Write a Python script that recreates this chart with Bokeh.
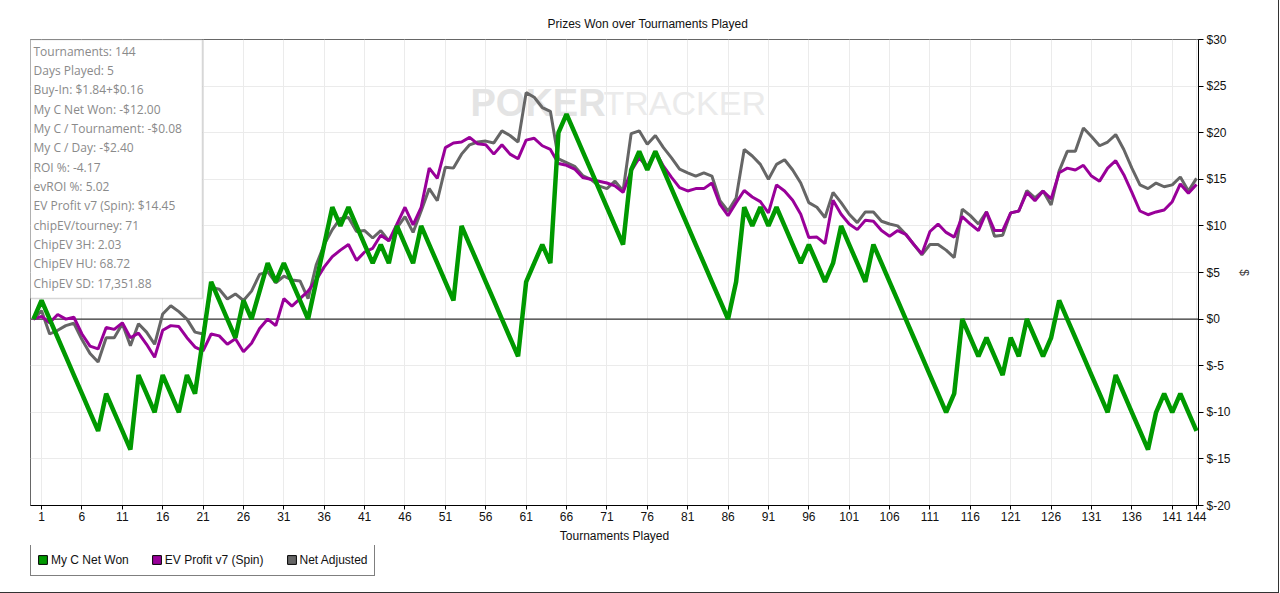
from bokeh.plotting import figure
from bokeh.layouts import column
from bokeh.models import (Range1d, FixedTicker, PrintfTickFormatter, Span, Legend,
                          LegendItem, BoxAnnotation, Label)
from bokeh.embed import file_html
from bokeh.resources import INLINE

# ---------------- data ----------------
tournaments = list(range(145))

net_won = [
    0, 2, 0, -2, -4, -6, -8, -10, -12, -8,
    -10, -12, -14, -6, -8, -10, -6, -8, -10, -6,
    -8, -2, 4, 2, 0, -2, 2, 0, 3, 6,
    4, 6, 4, 2, 0, 4, 8, 12, 10, 12,
    10, 8, 6, 8, 6, 10, 8, 6, 10, 8,
    6, 4, 2, 10, 8, 6, 4, 2, 0, -2,
    -4, 4, 6, 8, 6, 20, 22, 20, 18, 16,
    14, 12, 10, 8, 16, 18, 16, 18, 16, 14,
    12, 10, 8, 6, 4, 2, 0, 4, 12, 10,
    12, 10, 12, 10, 8, 6, 8, 6, 4, 6,
    10, 8, 6, 4, 8, 6, 4, 2, 0, -2,
    -4, -6, -8, -10, -8, 0, -2, -4, -2, -4,
    -6, -2, -4, 0, -2, -4, -2, 2, 0, -2,
    -4, -6, -8, -10, -6, -8, -10, -12, -14, -10,
    -8, -10, -8, -10, -12,
]

ev_profit = [
    0, 0.3, -0.4, 0.5, 0.0, 0.2, -1.6, -2.9, -3.2, -0.9,
    -1.1, -0.4, -2.0, -1.5, -2.7, -4.1, -1.2, -0.7, -0.8, -2.0,
    -3.0, -3.4, -1.6, -1.8, -2.7, -2.1, -3.5, -2.6, -1.0, 0.0,
    -0.7, 2.2, 1.4, 2.2, 3.0, 4.2, 5.6, 6.7, 7.4, 8.0,
    6.3, 7.2, 7.6, 9.0, 8.4, 10.2, 12.0, 10.1, 12.0, 16.2,
    15.1, 18.4, 18.9, 19.0, 19.5, 18.8, 18.7, 17.7, 18.7, 17.7,
    17.2, 19.2, 19.4, 18.6, 18.2, 16.7, 16.5, 16.1, 15.2, 15.0,
    14.8, 14.6, 14.3, 13.6, 15.9, 17.3, 16.3, 18.0, 16.4, 15.2,
    14.1, 13.75, 14.0, 14.0, 14.6, 12.3, 11.1, 12.5, 13.8, 13.1,
    12.6, 11.4, 14.4, 13.75, 12.75, 11.25, 8.75, 8.8, 8.1, 12.75,
    11.25, 10.2, 9.6, 10.6, 10.5, 9.5, 8.9, 9.5, 9.1, 8.0,
    7.0, 9.4, 10.2, 9.3, 8.8, 11.0, 10.2, 9.5, 11.5, 9.5,
    9.5, 11.4, 11.6, 13.6, 12.7, 13.75, 12.9, 15.7, 16.2, 16.0,
    16.5, 15.35, 14.8, 16.2, 17.0, 15.5, 13.6, 11.6, 11.2, 11.5,
    11.7, 12.6, 14.5, 13.5, 14.45,
]

net_adjusted = [
    0, 0.9, -1.6, -1.2, -0.7, -0.45, -2.2, -3.7, -4.6, -2.0,
    -2.0, -0.5, -2.85, -0.5, -1.4, -2.7, 0.55, 1.43, 0.8, 0.0,
    -1.4, -1.6, 3.4, 3.2, 2.15, 2.7, 2.0, 3.0, 4.8, 5.1,
    3.9, 4.6, 4.2, 4.1, 2.2, 5.8, 8.0, 9.6, 10.8, 10.9,
    9.4, 9.5, 8.7, 9.5, 8.4, 9.8, 11.0, 9.3, 11.6, 14.0,
    12.7, 16.3, 16.2, 17.7, 18.7, 19.0, 19.1, 18.9, 20.2, 19.7,
    19.0, 24.3, 23.8, 22.7, 22.3, 17.2, 16.8, 16.4, 15.4, 15.0,
    14.3, 14.0, 14.8, 13.75, 19.9, 20.2, 18.75, 19.7, 18.4, 17.3,
    16.1, 15.7, 15.35, 15.7, 15.35, 12.7, 11.6, 13.0, 18.2, 17.5,
    16.6, 15.0, 16.6, 17.1, 16.0, 14.6, 12.5, 12.0, 10.9, 13.6,
    12.5, 11.25, 10.35, 11.5, 11.5, 10.5, 10.2, 10.0, 9.1, 8.0,
    6.9, 8.0, 8.0, 7.4, 6.6, 11.8, 11.1, 10.2, 11.5, 8.9,
    9.0, 11.4, 11.6, 13.8, 13.0, 13.75, 12.25, 15.9, 18.0, 18.0,
    20.5, 19.6, 18.6, 19.0, 19.8, 18.2, 16.2, 14.4, 14.0, 14.6,
    14.2, 14.4, 15.25, 13.75, 15.1,
]

x_ticks = [1, 6, 11, 16, 21, 26, 31, 36, 41, 46, 51, 56, 61, 66, 71, 76, 81,
           86, 91, 96, 101, 106, 111, 116, 121, 126, 131, 136, 141, 144]
y_ticks = [-20, -15, -10, -5, 0, 5, 10, 15, 20, 25, 30]

series_names = ["My C Net Won", "EV Profit v7 (Spin)", "Net Adjusted"]
series_colors = ["#009900", "#990099", "#666666"]

stats_lines = [
    "Tournaments: 144",
    "Days Played: 5",
    "Buy-In: $1.84+$0.16",
    "My C Net Won: -$12.00",
    "My C / Tournament: -$0.08",
    "My C / Day: -$2.40",
    "ROI %: -4.17",
    "evROI %: 5.02",
    "EV Profit v7 (Spin): $14.45",
    "chipEV/tourney: 71",
    "ChipEV 3H: 2.03",
    "ChipEV HU: 68.72",
    "ChipEV SD: 17,351.88",
]

title_text = "Prizes Won over Tournaments Played"
x_label = "Tournaments Played"
y_label = "$"
watermark_parts = ["POKER", "TRACKER"]

# ---------------- main figure ----------------
FRAME_W, FRAME_H = 1168, 466
TOP, BOTTOM, LEFT, RIGHT = 39, 40, 30, 80
TOTAL_W = LEFT + FRAME_W + RIGHT
LEGEND_H = 47
FONT = "Liberation Sans"

p = figure(frame_width=FRAME_W, frame_height=FRAME_H,
           output_backend="svg", toolbar_location=None,
           x_range=Range1d(-0.37, 144.25), y_range=Range1d(-20, 30),
           y_axis_location="right",
           min_border_left=LEFT, min_border_right=RIGHT,
           min_border_top=TOP, min_border_bottom=BOTTOM,
           title=title_text)

p.title.text_font = FONT
p.title.text_font_size = "12px"
p.title.text_font_style = "normal"
p.title.text_color = "#111111"
p.title.align = "left"
p.title.offset = 517
p.title.standoff = 17

p.outline_line_color = "#666666"
p.outline_line_width = 1
p.background_fill_color = "white"
p.border_fill_color = "white"

xa = p.xaxis[0]
xa.ticker = FixedTicker(ticks=x_ticks)
xa.axis_label = x_label
xa.axis_label_text_font = FONT
xa.axis_label_text_font_size = "12px"
xa.axis_label_text_font_style = "normal"
xa.axis_label_text_color = "#111111"
xa.axis_label_standoff = 5
xa.major_label_text_font = FONT
xa.major_label_text_font_size = "12px"
xa.major_label_text_color = "#111111"
xa.major_label_standoff = 2
xa.major_tick_in = 0
xa.major_tick_out = 4
xa.minor_tick_in = 0
xa.minor_tick_out = 0
xa.axis_line_color = "black"
xa.major_tick_line_color = "black"

ya = p.yaxis[0]
ya.ticker = FixedTicker(ticks=y_ticks)
ya.formatter = PrintfTickFormatter(format="$%d")
ya.axis_label = y_label
ya.axis_label_text_font = FONT
ya.axis_label_text_font_size = "12px"
ya.axis_label_text_font_style = "normal"
ya.axis_label_standoff = 3
ya.major_label_text_font = FONT
ya.major_label_text_font_size = "12px"
ya.major_label_text_color = "#111111"
ya.major_label_standoff = 3
ya.major_tick_in = 0
ya.major_tick_out = 5
ya.minor_tick_in = 0
ya.minor_tick_out = 0
ya.axis_line_color = "black"
ya.major_tick_line_color = "black"

p.xgrid.ticker = FixedTicker(ticks=x_ticks)
p.ygrid.ticker = FixedTicker(ticks=y_ticks)
p.xgrid.grid_line_color = "#ebebeb"
p.ygrid.grid_line_color = "#ebebeb"

# watermark
p.add_layout(Label(x=440, y=FRAME_H - 63.5, x_units="screen", y_units="screen",
                   text=watermark_parts[0], text_font=FONT, text_font_size="38px",
                   text_font_style="bold", text_color="#e4e4e4",
                   text_baseline="alphabetic", level="underlay"))
p.add_layout(Label(x=573, y=FRAME_H - 63.5, x_units="screen", y_units="screen",
                   text=watermark_parts[1], text_font=FONT, text_font_size="34px",
                   text_color="#ebebeb", text_baseline="alphabetic", level="underlay"))

p.add_layout(Span(location=0, dimension="width", line_color="#333333",
                  line_width=1.3, level="underlay"))

# series
r_gray = p.line(tournaments, net_adjusted, line_color=series_colors[2], line_width=3)
r_purple = p.line(tournaments, ev_profit, line_color=series_colors[1], line_width=3)
r_green = p.line(tournaments, net_won, line_color=series_colors[0], line_width=4.5)

# stats box
box_h = 259
p.add_layout(BoxAnnotation(left=-1, right=172, top=FRAME_H, bottom=FRAME_H - box_h,
                           left_units="screen", right_units="screen",
                           top_units="screen", bottom_units="screen",
                           fill_color="white", fill_alpha=1.0,
                           line_color="#7a7a7a", line_width=1.5))
for i, line in enumerate(stats_lines):
    p.add_layout(Label(x=3, y=FRAME_H - (11.5 + 19.35 * i), x_units="screen", y_units="screen",
                       text=line, text_font="Open Sans", text_font_size="12px",
                       text_color="#8a8a8a", text_baseline="middle", text_align="left"))

# ---------------- legend strip ----------------
leg = figure(width=TOTAL_W, height=LEGEND_H, output_backend="svg", toolbar_location=None,
             x_range=Range1d(0, 1), y_range=Range1d(0, 1),
             x_axis_location=None, y_axis_location=None, min_border=0)
leg.grid.visible = False
leg.outline_line_color = None
leg.background_fill_color = "white"
leg.border_fill_color = "white"

# swatch proxies: one off-range square per series, only drawn in the legend
swatches = [leg.quad(left=[-3], right=[-2], top=[-2], bottom=[-3], fill_color=c,
                     line_color="black", line_width=1) for c in series_colors]
legend = Legend(items=[LegendItem(label=n, renderers=[s], index=0)
                       for n, s in zip(series_names, swatches)],
                orientation="horizontal", location=(0, 16), margin=0,
                padding=6, spacing=22, glyph_width=11, glyph_height=11,
                label_height=19,
                label_standoff=3, label_text_font=FONT, label_text_font_size="12px",
                label_text_color="#111111",
                border_line_color="black", border_line_width=1,
                background_fill_color="white")
leg.add_layout(legend)

page = column(p, leg, spacing=0)
page.styles = {"outline": "1px solid #333333"}

open("out.html", "w").write(file_html(page, INLINE))
